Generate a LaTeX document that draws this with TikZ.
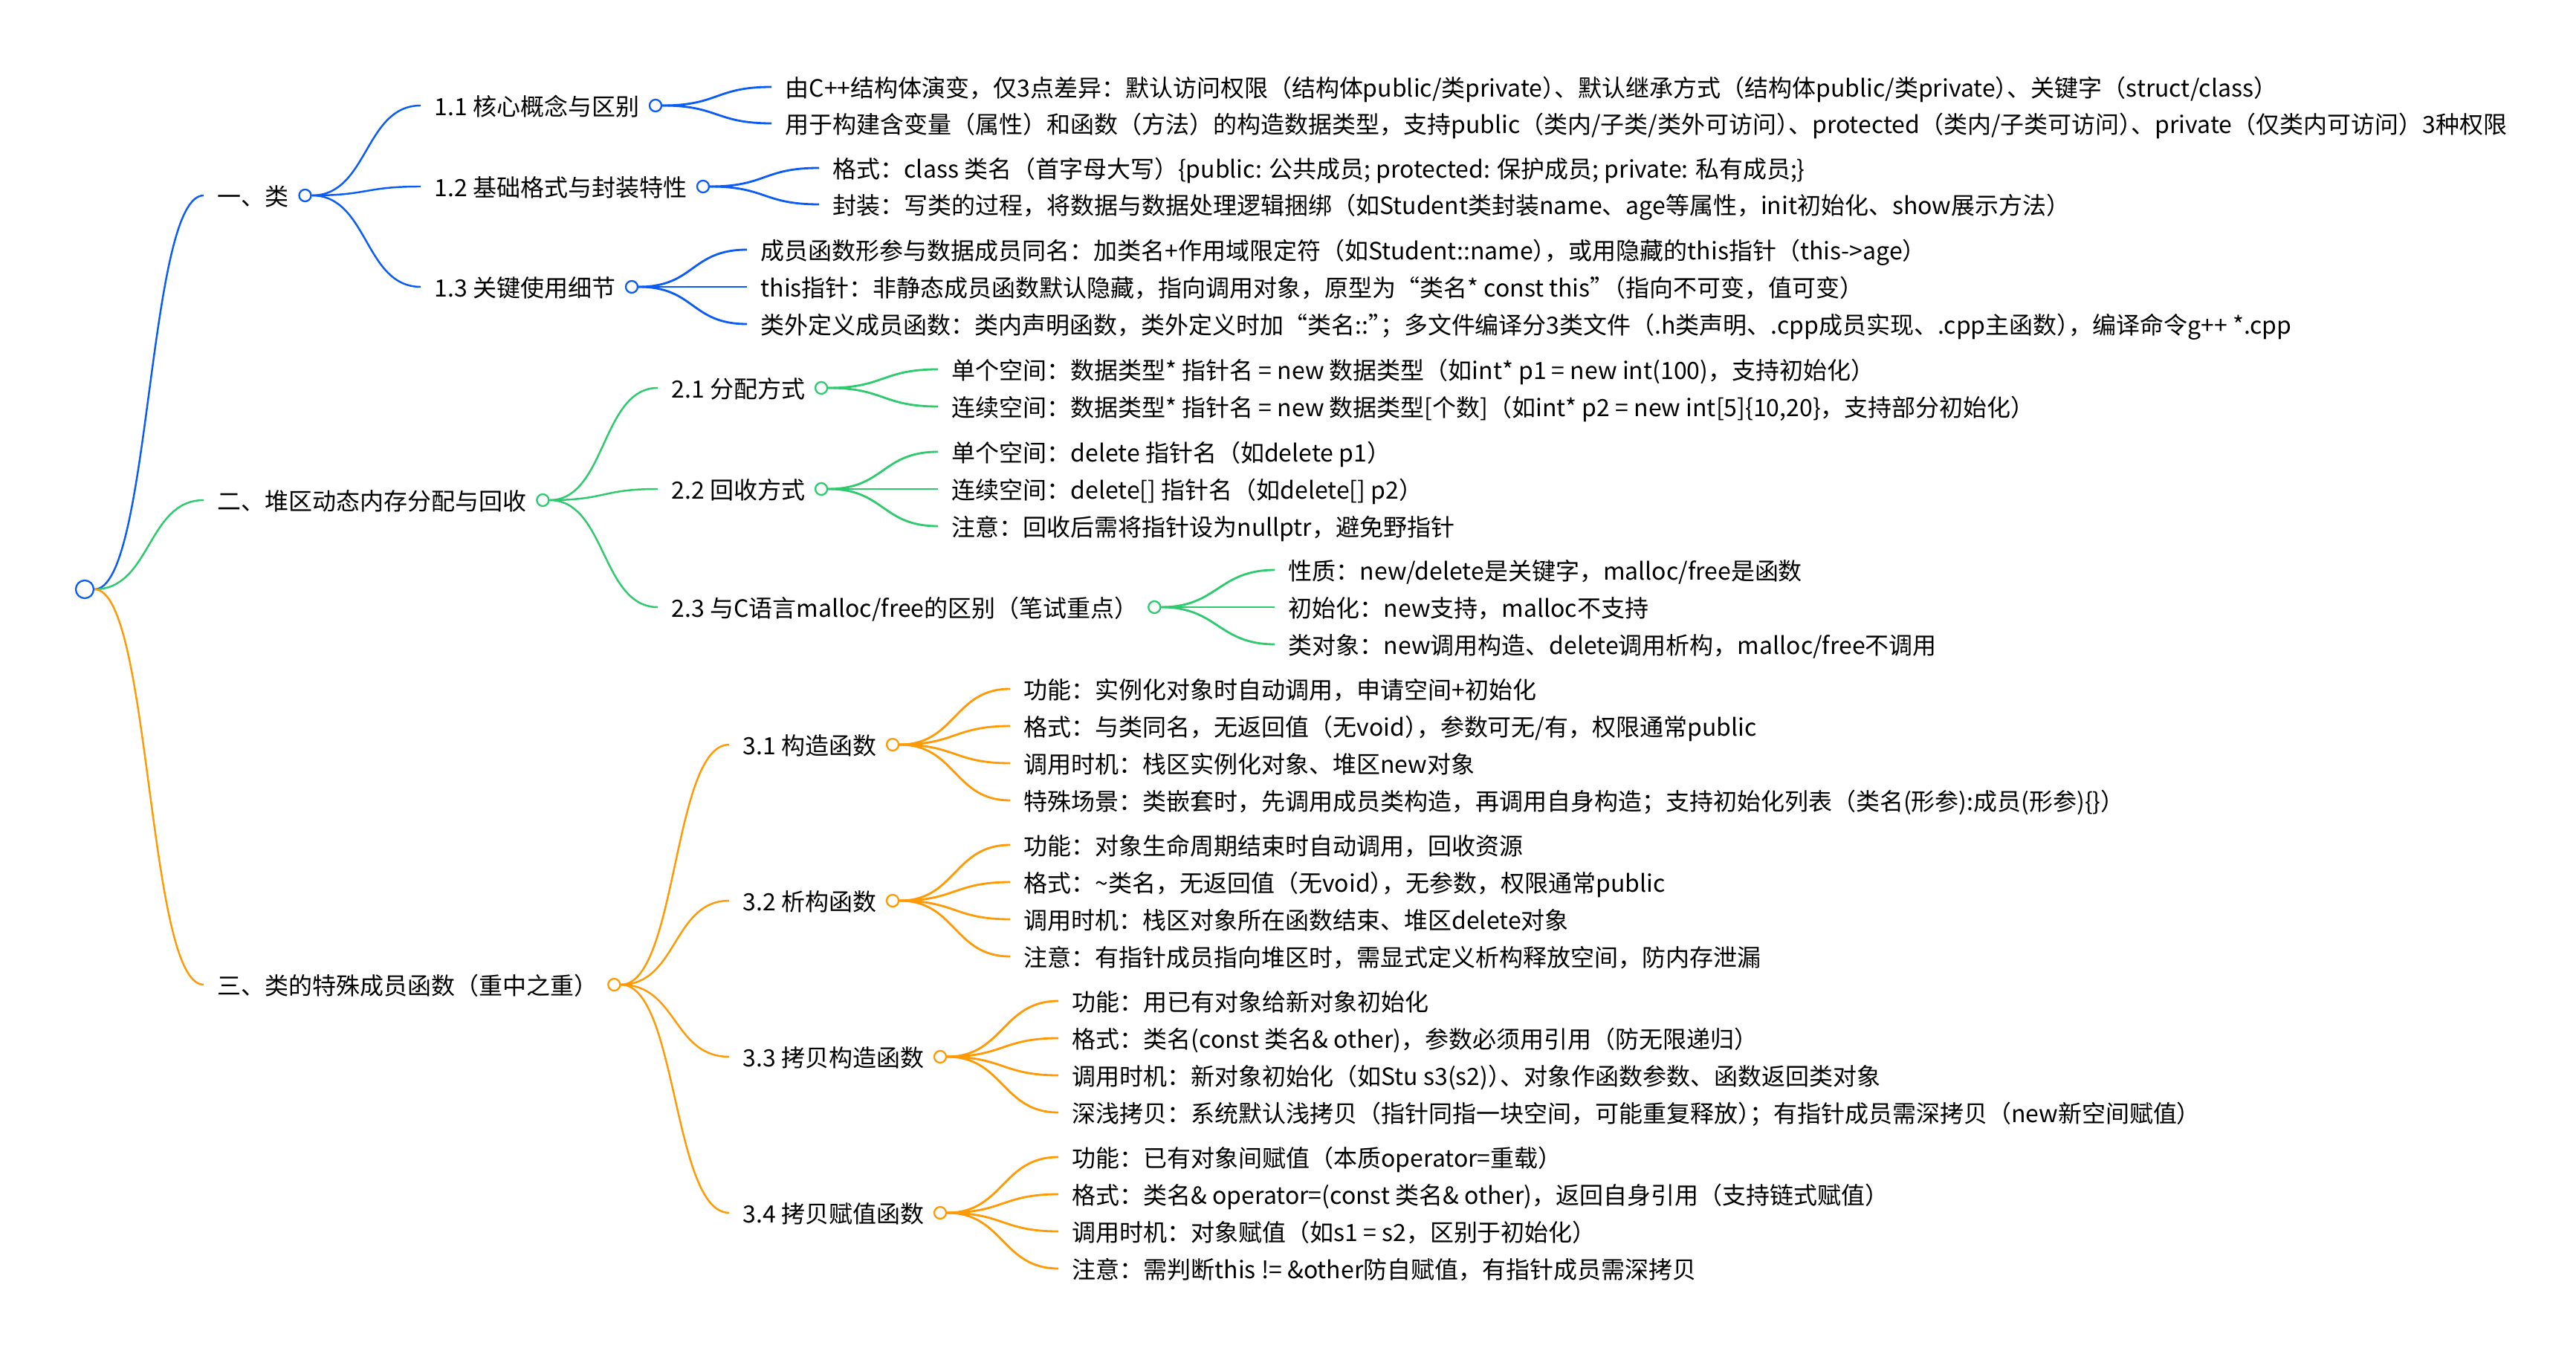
\documentclass[tikz,border=0pt]{standalone}
\usepackage{fontspec}
\setmainfont{Noto Sans CJK SC}
\usetikzlibrary{positioning}
\definecolor{mblue}{HTML}{0B5CF5}
\definecolor{mgreen}{HTML}{2DCA6E}
\definecolor{morange}{HTML}{FF9A05}
% curve from a circle to the left end of a text
\newcommand{\mmlink}[3]{\draw[#1] (#2.east) .. controls +(0.76,0) and +(-0.76,0) .. ([xshift=-0.18cm]#3.west);}
% trims the blank half of a closing mark before another mark
\newcommand{\pkern}{\kern-0.5em}

\begin{document}
\begin{tikzpicture}[
		txt/.style={anchor=west, inner sep=0pt, text height=0.88em, text depth=0.12em},
		dot/.style={circle, draw=#1, fill=white, inner sep=0pt, minimum size=0.16cm, line width=0.65pt},
		link/.style={line width=0.7pt},
		twig/.style={line width=0.8pt},
		font=\fontsize{9.1pt}{11pt}\selectfont]
	\fill[white] (0,0) rectangle (34.66,-18.22);
	\useasboundingbox (0,0) rectangle (34.66,-18.22);
	
	\node[dot=mblue, minimum size=0.24cm] (o0) at (1.14,-7.93) {};
	
	\node[txt] (s1) at (2.92,-2.63) {一、类};
	\node[txt] (s2) at (2.92,-6.73) {二、堆区动态内存分配与回收};
	\node[txt] (s3) at (2.92,-13.25) {三、类的特殊成员函数（重中之重）};
	\node[dot=mblue, right=0.12 of s1] (o1) {};
	\node[dot=mgreen, right=0.12 of s2] (o2) {};
	\node[dot=morange, right=0.12 of s3] (o3) {};
	
	% 一、类
	\node[txt] (s11) at (5.84,-1.42) {1.1 核心概念与区别};
	\node[txt] (s12) at (5.84,-2.51) {1.2 基础格式与封装特性};
	\node[txt] (s13) at (5.84,-3.86) {1.3 关键使用细节};
	\node[dot=mblue, right=0.12 of s11] (o11) {};
	\node[dot=mblue, right=0.12 of s12] (o12) {};
	\node[dot=mblue, right=0.12 of s13] (o13) {};
	
	\node[txt] (s111) at (10.56,-1.17) {由C++结构体演变，仅3点差异：默认访问权限（结构体public/类private）\pkern 、默认继承方式（结构体public/类private）\pkern 、关键字（struct/class）};
	\node[txt] (s112) at (10.56,-1.66) {用于构建含变量（属性）和函数（方法）的构造数据类型，支持public（类内/子类/类外可访问）\pkern 、protected（类内/子类可访问）\pkern 、private（仅类内可访问）3种权限};
	\node[txt] (s121) at (11.20,-2.26) {格式：class 类名（首字母大写）\{public: 公共成员; protected: 保护成员; private: 私有成员;\}};
	\node[txt] (s122) at (11.20,-2.75) {封装：写类的过程，将数据与数据处理逻辑捆绑（如Student类封装name、age等属性，init初始化、show展示方法）};
	\node[txt] (s131) at (10.23,-3.36) {成员函数形参与数据成员同名：加类名+作用域限定符（如Student::name）\pkern ，或用隐藏的this指针（this->age）};
	\node[txt] (s132) at (10.23,-3.86) {this指针：非静态成员函数默认隐藏，指向调用对象，原型为“类名* const this”\pkern （指向不可变，值可变）};
	\node[txt] (s133) at (10.23,-4.36) {类外定义成员函数：类内声明函数，类外定义时加“类名::”\pkern ；多文件编译分3类文件（.h类声明、.cpp成员实现、.cpp主函数）\pkern ，编译命令g++ *.cpp};
	
	% 二、堆区
	\node[txt] (s21) at (9.03,-5.22) {2.1 分配方式};
	\node[txt] (s22) at (9.03,-6.58) {2.2 回收方式};
	\node[txt] (s23) at (9.03,-8.17) {2.3 与C语言malloc/free的区别（笔试重点）};
	\node[dot=mgreen, right=0.12 of s21] (o21) {};
	\node[dot=mgreen, right=0.12 of s22] (o22) {};
	\node[dot=mgreen, right=0.12 of s23] (o23) {};
	
	\node[txt] (s211) at (12.80,-4.97) {单个空间：数据类型* 指针名 = new 数据类型（如int* p1 = new int(100)，支持初始化）};
	\node[txt] (s212) at (12.80,-5.47) {连续空间：数据类型* 指针名 = new 数据类型[个数]（如int* p2 = new int[5]\{10,20\}，支持部分初始化）};
	\node[txt] (s221) at (12.80,-6.08) {单个空间：delete 指针名（如delete p1）};
	\node[txt] (s222) at (12.80,-6.58) {连续空间：delete[] 指针名（如delete[] p2）};
	\node[txt] (s223) at (12.80,-7.08) {注意：回收后需将指针设为nullptr，避免野指针};
	\node[txt] (s231) at (17.33,-7.67) {性质：new/delete是关键字，malloc/free是函数};
	\node[txt] (s232) at (17.33,-8.17) {初始化：new支持，malloc不支持};
	\node[txt] (s233) at (17.33,-8.67) {类对象：new调用构造、delete调用析构，malloc/free不调用};
	
	% 三、特殊成员函数
	\node[txt] (s31) at (9.99,-10.02) {3.1 构造函数};
	\node[txt] (s32) at (9.99,-12.12) {3.2 析构函数};
	\node[txt] (s33) at (9.99,-14.22) {3.3 拷贝构造函数};
	\node[txt] (s34) at (9.99,-16.32) {3.4 拷贝赋值函数};
	\node[dot=morange, right=0.12 of s31] (o31) {};
	\node[dot=morange, right=0.12 of s32] (o32) {};
	\node[dot=morange, right=0.12 of s33] (o33) {};
	\node[dot=morange, right=0.12 of s34] (o34) {};
	
	\node[txt] (s311) at (13.77,-9.27) {功能：实例化对象时自动调用，申请空间+初始化};
	\node[txt] (s312) at (13.77,-9.77) {格式：与类同名，无返回值（无void）\pkern ，参数可无/有，权限通常public};
	\node[txt] (s313) at (13.77,-10.27) {调用时机：栈区实例化对象、堆区new对象};
	\node[txt] (s314) at (13.77,-10.77) {特殊场景：类嵌套时，先调用成员类构造，再调用自身构造；支持初始化列表（类名(形参):成员(形参)\{\}）};
	\node[txt] (s321) at (13.77,-11.37) {功能：对象生命周期结束时自动调用，回收资源};
	\node[txt] (s322) at (13.77,-11.87) {格式：\textasciitilde{}类名，无返回值（无void）\pkern ，无参数，权限通常public};
	\node[txt] (s323) at (13.77,-12.37) {调用时机：栈区对象所在函数结束、堆区delete对象};
	\node[txt] (s324) at (13.77,-12.87) {注意：有指针成员指向堆区时，需显式定义析构释放空间，防内存泄漏};
	\node[txt] (s331) at (14.42,-13.47) {功能：用已有对象给新对象初始化};
	\node[txt] (s332) at (14.42,-13.97) {格式：类名(const 类名\& other)，参数必须用引用（防无限递归）};
	\node[txt] (s333) at (14.42,-14.47) {调用时机：新对象初始化（如Stu s3(s2)）\pkern 、对象作函数参数、函数返回类对象};
	\node[txt] (s334) at (14.42,-14.97) {深浅拷贝：系统默认浅拷贝（指针同指一块空间，可能重复释放）\pkern ；有指针成员需深拷贝（new新空间赋值）};
	\node[txt] (s341) at (14.42,-15.57) {功能：已有对象间赋值（本质operator=重载）};
	\node[txt] (s342) at (14.42,-16.07) {格式：类名\& operator=(const 类名\& other)，返回自身引用（支持链式赋值）};
	\node[txt] (s343) at (14.42,-16.57) {调用时机：对象赋值（如s1 = s2，区别于初始化）};
	\node[txt] (s344) at (14.42,-17.07) {注意：需判断this != \&other防自赋值，有指针成员需深拷贝};
	
	\mmlink{mblue, link}{o0}{s1}
	\mmlink{mgreen, link}{o0}{s2}
	\mmlink{morange, link}{o0}{s3}
	
	\mmlink{mblue, link}{o1}{s11}
	\mmlink{mblue, link}{o1}{s12}
	\mmlink{mblue, link}{o1}{s13}
	\mmlink{mblue, twig}{o11}{s111}
	\mmlink{mblue, twig}{o11}{s112}
	\mmlink{mblue, twig}{o12}{s121}
	\mmlink{mblue, twig}{o12}{s122}
	\mmlink{mblue, twig}{o13}{s131}
	\mmlink{mblue, twig}{o13}{s132}
	\mmlink{mblue, twig}{o13}{s133}
	
	\mmlink{mgreen, link}{o2}{s21}
	\mmlink{mgreen, link}{o2}{s22}
	\mmlink{mgreen, link}{o2}{s23}
	\mmlink{mgreen, twig}{o21}{s211}
	\mmlink{mgreen, twig}{o21}{s212}
	\mmlink{mgreen, twig}{o22}{s221}
	\mmlink{mgreen, twig}{o22}{s222}
	\mmlink{mgreen, twig}{o22}{s223}
	\mmlink{mgreen, twig}{o23}{s231}
	\mmlink{mgreen, twig}{o23}{s232}
	\mmlink{mgreen, twig}{o23}{s233}
	
	\mmlink{morange, link}{o3}{s31}
	\mmlink{morange, link}{o3}{s32}
	\mmlink{morange, link}{o3}{s33}
	\mmlink{morange, link}{o3}{s34}
	\mmlink{morange, twig}{o31}{s311}
	\mmlink{morange, twig}{o31}{s312}
	\mmlink{morange, twig}{o31}{s313}
	\mmlink{morange, twig}{o31}{s314}
	\mmlink{morange, twig}{o32}{s321}
	\mmlink{morange, twig}{o32}{s322}
	\mmlink{morange, twig}{o32}{s323}
	\mmlink{morange, twig}{o32}{s324}
	\mmlink{morange, twig}{o33}{s331}
	\mmlink{morange, twig}{o33}{s332}
	\mmlink{morange, twig}{o33}{s333}
	\mmlink{morange, twig}{o33}{s334}
	\mmlink{morange, twig}{o34}{s341}
	\mmlink{morange, twig}{o34}{s342}
	\mmlink{morange, twig}{o34}{s343}
	\mmlink{morange, twig}{o34}{s344}
\end{tikzpicture}
\end{document}
